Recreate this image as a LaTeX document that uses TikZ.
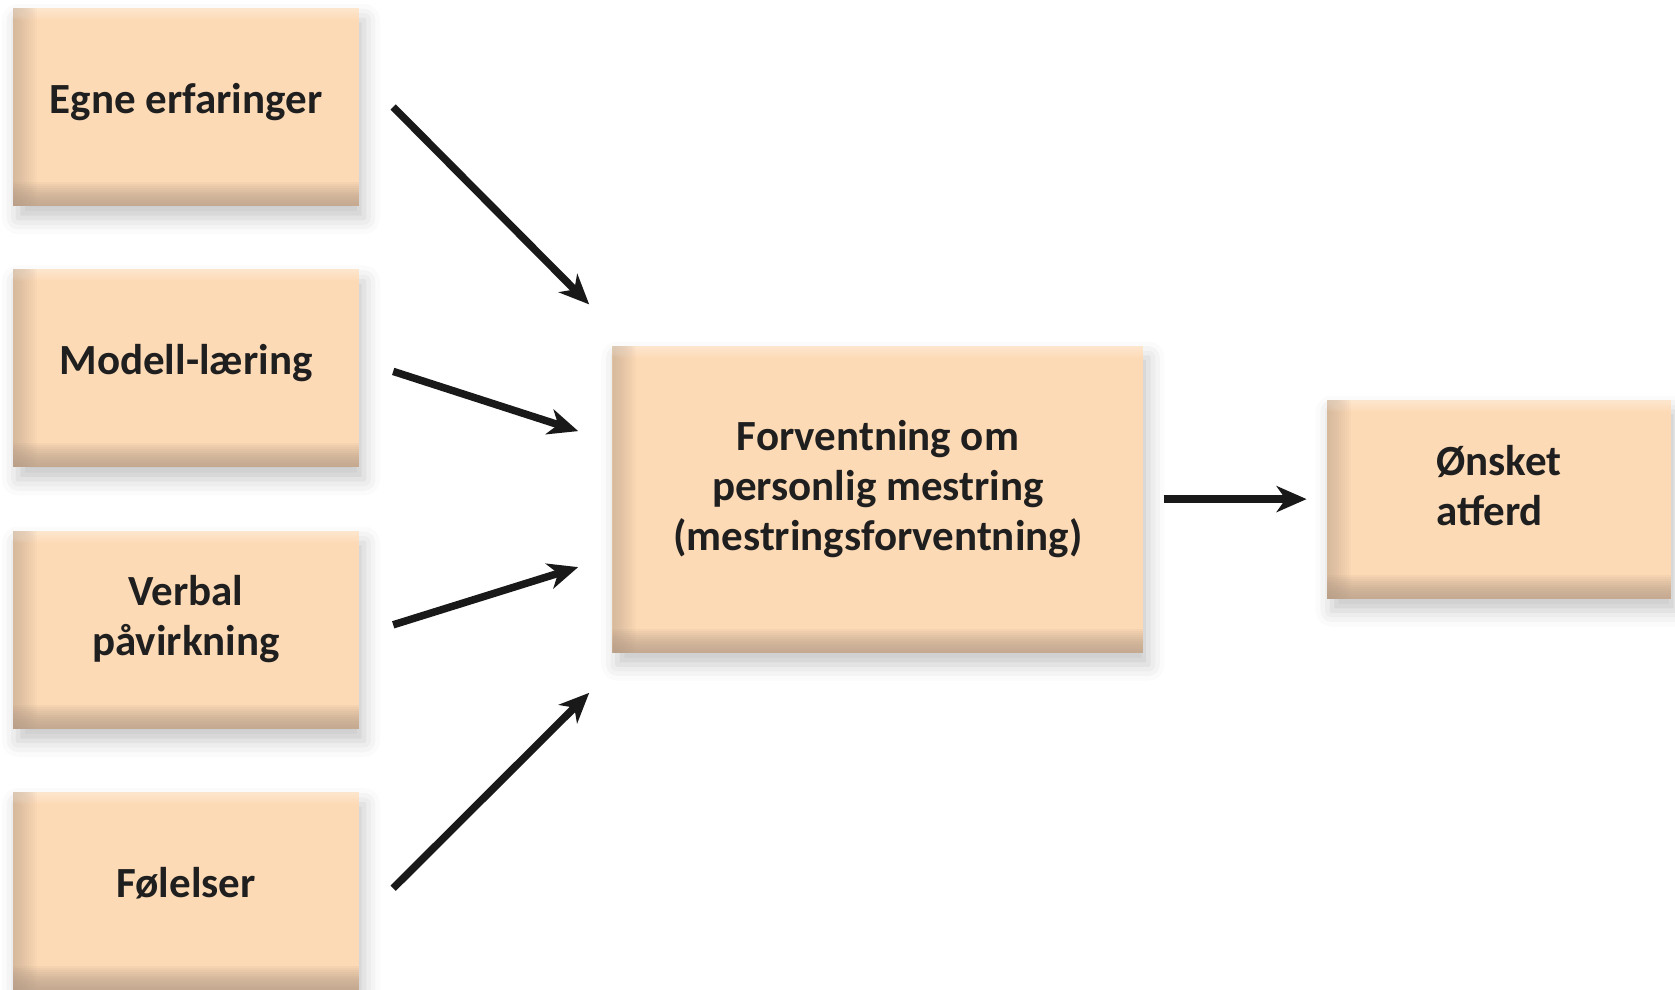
\documentclass[tikz,border=0pt]{standalone}
\usepackage{fontspec}
\setmainfont{Carlito}
\usetikzlibrary{positioning,calc,arrows.meta,shadows.blur}
\definecolor{fersken}{HTML}{FDDAB6}
\definecolor{kant}{HTML}{B49C88}

\tikzset{
  boks/.style={rectangle, fill=fersken, minimum width=346pt, minimum height=198pt,
    align=center, text=black!88, font=\fontsize{43}{50}\selectfont\bfseries,
    text height=31pt, text depth=19pt,
    blur shadow={shadow xshift=5pt, shadow yshift=-12pt, shadow blur radius=16pt, shadow opacity=22},
    path picture={
      \foreach \i in {1,...,12}{
        \fill[kant, opacity=0.05] (path picture bounding box.south west) rectangle ([xshift={2pt*\i}]path picture bounding box.north west);
        \fill[white, opacity=0.04] (path picture bounding box.north west) rectangle ([yshift={-1pt*\i}]path picture bounding box.north east);
        \fill[kant, opacity=0.1] (path picture bounding box.south west) rectangle ([yshift={2pt*\i}]path picture bounding box.south east);
      }
    }},
  tolinjer/.style={text height=81pt, text depth=29pt},
  pil/.style={line width=7.5pt, black!90, -{Stealth[length=30pt, width=26pt, inset=9pt]}}
}

\begin{document}
\begin{tikzpicture}[x=1pt, y=-1pt, node distance=63pt]
  \useasboundingbox (0,0) rectangle (1675,989);
  \node[boks] (egne) at (186,107) {Egne erfaringer};
  \node[boks] (modell) [below=of egne] {Modell-læring};
  \node[boks, tolinjer] (verbal) [below=of modell] {Verbal\\påvirkning};
  \node[boks] (folelser) [below=of verbal] {Følelser};
  \coordinate (midt) at ($(modell.east)!0.5!(verbal.east)$);
  \node[boks, minimum width=531pt, minimum height=307pt, text height=131pt, text depth=29pt] (forv) [right=253pt of midt] {Forventning om\\personlig mestring\\(mestringsforventning)};
  \node[boks, tolinjer, align=left, minimum width=344pt, minimum height=199pt] (onsket) [right=183pt of forv] {Ønsket\\atferd};

  \draw[pil] ([xshift=34pt]egne.east) -- ([shift={(-23pt,41pt)}]forv.north west);
  \draw[pil] ([shift={(34pt,-3pt)}]modell.east) -- ([shift={(-34pt,68pt)}]forv.west);
  \draw[pil] ([shift={(34pt,5pt)}]verbal.east) -- ([shift={(-34pt,-68pt)}]forv.west);
  \draw[pil] ([shift={(34pt,3pt)}]folelser.east) -- ([shift={(-23pt,-40pt)}]forv.south west);
  \draw[pil] ([xshift=20pt]forv.east) -- ([xshift=-20pt]onsket.west);
\end{tikzpicture}
\end{document}
